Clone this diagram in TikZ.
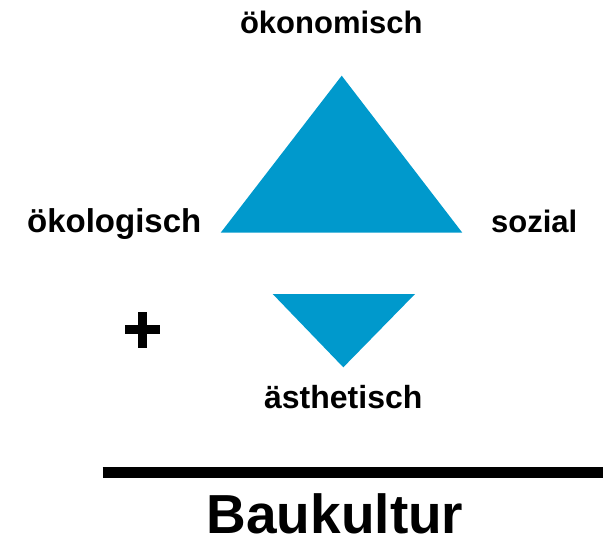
\documentclass[tikz,border=0pt]{standalone}
\usepackage{fontspec}
\setmainfont{Liberation Sans}
\definecolor{bkblue}{RGB}{0,153,204}
\tikzset{
  lbl/.style={font=\bfseries\fontsize{31}{31}\selectfont, inner sep=0pt, anchor=base},
  lblwide/.style={lbl, font=\bfseries\fontsize{33}{33}\selectfont},
  lblmid/.style={lbl, font=\bfseries\fontsize{32}{32}\selectfont},
  title/.style={font=\bfseries\fontsize{55}{55}\selectfont, inner sep=0pt, anchor=base},
}
\begin{document}
\begin{tikzpicture}[x=1pt, y=-1pt]
  \useasboundingbox (0,0) rectangle (607,539);
  % upper triangle: the three classic pillars
  \coordinate (top) at (341.7,75.7);
  \coordinate (bl) at (220.7,232.7);
  \coordinate (br) at (462.3,232.7);
  \fill[bkblue] (top) -- (bl) -- (br) -- cycle;
  % lower triangle: the aesthetic dimension
  \coordinate (tl2) at (272.7,294);
  \coordinate (tr2) at (415,294);
  \coordinate (bot) at (343.3,367.3);
  \fill[bkblue] (tl2) -- (tr2) -- (bot) -- cycle;
  % labels
  \node[lbl] (oek) at (331.3,33) {ökonomisch};
  \node[lblwide] (oeko) at (114.2,232.5) {ökologisch};
  \node[lbl] (soz) at (534.2,232.5) {sozial};
  \node[lblmid] (aes) at (343.3,408) {ästhetisch};
  % plus sign
  \fill (125,325.3) rectangle (160,334.3);
  \fill (137.7,312.3) rectangle (146.7,347.7);
  % rule and title
  \coordinate (ruleL) at (102.7,472.2);
  \coordinate (ruleR) at (602.7,472.2);
  \draw[line width=11pt] (ruleL) -- (ruleR);
  \node[title] (bk) at (335,533.3) {Baukultur};
\end{tikzpicture}
\end{document}
